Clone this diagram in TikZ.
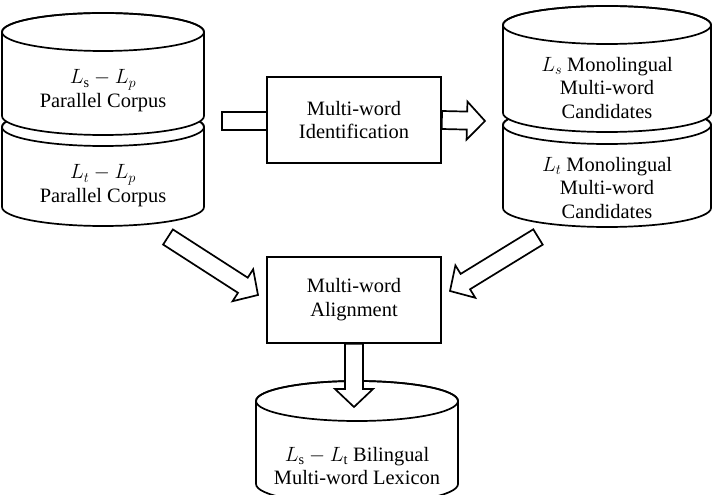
\documentclass[tikz,border=0pt]{standalone}
\usepackage{fontspec}
\setmainfont{Liberation Serif}
\usetikzlibrary{calc}

% cylinder: centre x, top y, bottom y, x radius, y radius
\newcommand{\corpuscyl}[5]{%
  \draw[fill=white] (#1-#4,#2) -- (#1-#4,#3)
    arc[start angle=180,end angle=360,x radius=#4,y radius=#5]
    -- (#1+#4,#2) arc[start angle=0,end angle=180,x radius=#4,y radius=#5] -- cycle;
  \draw (#1,#2) ellipse[x radius=#4,y radius=#5];}

% hollow block arrow from #1 to #2
\newcommand{\hollowarrow}[2]{%
  \coordinate (hb) at ($(#2)!18bp!(#1)$);
  \draw[fill=white] ($(#1)!9bp!90:(#2)$) -- ($(hb)!9bp!90:(#2)$)
    -- ($(hb)!19bp!90:(#2)$) -- (#2) -- ($(hb)!19bp!-90:(#2)$)
    -- ($(hb)!9bp!-90:(#2)$) -- ($(#1)!9bp!-90:(#2)$) -- cycle;}

\begin{document}
\begin{tikzpicture}[x=1bp,y=1bp,line width=1.7bp,
  every node/.style={font=\fontsize{20.5}{24}\selectfont,align=center},
  stepbox/.style={draw,fill=white,minimum width=174bp,minimum height=86bp}]
\useasboundingbox (0,0) rectangle (713,-495);

% source corpora
\corpuscyl{103}{-127}{-207}{101}{19}
\corpuscyl{103}{-32}{-116}{101}{19}
\node (srcp) at (103,-91) {$L_\mathrm{s}-L_p$\\Parallel Corpus};
\node (trgp) at (103,-186) {$L_t-L_p$\\Parallel Corpus};

% monolingual candidates
\corpuscyl{607}{-125}{-208}{104}{19}
\corpuscyl{607}{-25}{-113}{104}{19}
\node (srcm) at (607,-88) {$L_s$ Monolingual\\Multi-word\\Candidates};
\node (trgm) at (607,-188) {$L_t$ Monolingual\\Multi-word\\Candidates};

% lexicon
\corpuscyl{357}{-401}{-484}{101}{20}
\node (lex) at (357,-466) {$L_\mathrm{s}-L_\mathrm{t}$ Bilingual\\Multi-word Lexicon};

\coordinate (idin) at (222,-121);
\draw[fill=white] (idin) ++(0,9) rectangle (267,-130);
\node[stepbox] (ident) at (354,-120) {Multi-word\\Identification};
\node[stepbox] (align) at (354,-300) {Multi-word\\Alignment};

\coordinate (idout) at (485,-121);
\coordinate (lfrom) at (168,-237);
\coordinate (lto) at (258,-295);
\coordinate (rfrom) at (538,-237);
\coordinate (rto) at (450,-291);
\coordinate (lexin) at (354,-407);
\hollowarrow{ident.east}{idout}
\hollowarrow{lfrom}{lto}
\hollowarrow{rfrom}{rto}
\hollowarrow{align.south}{lexin}

\end{tikzpicture}
\end{document}
